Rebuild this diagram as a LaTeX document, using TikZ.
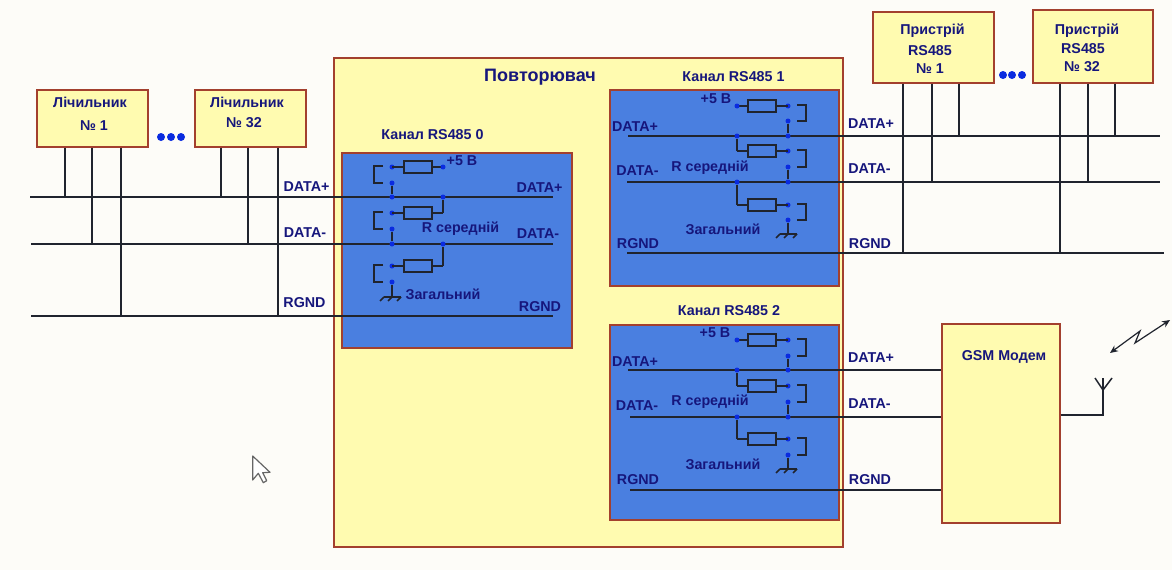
\documentclass[tikz,border=0pt]{standalone}
\usepackage{fontspec}
\setmainfont{Liberation Sans}
\usetikzlibrary{arrows.meta}
\definecolor{bgc}{HTML}{FDFCF8}
\definecolor{yel}{HTML}{FFFBB0}
\definecolor{chblue}{HTML}{4A7FE0}
\definecolor{brd}{HTML}{A3402E}
\definecolor{ink}{HTML}{16167C}
\definecolor{dotc}{HTML}{0A2BE0}
\definecolor{wire}{HTML}{20242E}
\tikzset{
  x=1pt,y=-1pt,
  wireline/.style={draw=wire,line width=1.5pt},
  ybox/.style={draw=brd,line width=1.7pt,fill=yel,anchor=north west,inner sep=0pt},
  chbox/.style={draw=brd,line width=1.7pt,fill=chblue,anchor=north west,inner sep=0pt},
  lbl/.style={text=ink,font=\bfseries\fontsize{14.3}{16}\selectfont,inner sep=0pt},
  res/.style={draw=wire,line width=1.5pt,minimum width=28pt,minimum height=12pt,inner sep=0pt},
  jd/.style={circle,fill=dotc,minimum size=5pt,inner sep=0pt},
}
% name, dot x, direction, y of first contact, y of second contact
\newcommand{\rung}[5]{%
  \node[jd] (#1a) at (#2,#4) {};
  \node[jd] (#1b) at (#2,#5) {};
  \node[res] (#1r) at (#2-#3*26,#4) {};
  \coordinate (#1f) at (#2-#3*51,#4);
  \draw[wireline] (#1a.center) -- (#1r);
  \draw[wireline] (#1r) -- (#1f);
  \draw[wireline] (#2+#3*9,#4-1) -- (#2+#3*18,#4-1) -- (#2+#3*18,#5) -- (#2+#3*9,#5);
}
\newcommand{\earth}[3]{% name, x, y
  \coordinate (#1) at (#2,#3);
  \draw[wireline] (#2-8,#3) -- (#2+9,#3);
  \draw[wireline] (#2-8,#3) -- (#2-12,#3+4);
  \draw[wireline] (#2+0,#3) -- (#2-4,#3+4);
  \draw[wireline] (#2+9,#3) -- (#2+5,#3+4);
}
\newcommand{\tapdot}[3]{\node[jd] (#1) at (#2,#3) {};}
\begin{document}
\begin{tikzpicture}
\useasboundingbox (0,0) rectangle (1172,570);
\fill[bgc] (0,0) rectangle (1172,570);

% Boxes
\node[ybox,minimum width=509pt,minimum height=489pt] (rep) at (333,57) {};
\node[ybox,minimum width=111pt,minimum height=57pt] (m1) at (36,89) {};
\node[ybox,minimum width=111pt,minimum height=57pt] (m2) at (194,89) {};
\node[ybox,minimum width=121pt,minimum height=71pt] (d1) at (872,11) {};
\node[ybox,minimum width=120pt,minimum height=73pt] (d2) at (1032,9) {};
\node[ybox,minimum width=118pt,minimum height=199pt] (gsm) at (941,323) {};
\node[chbox,minimum width=230pt,minimum height=195pt] (ch0) at (341,152) {};
\node[chbox,minimum width=229pt,minimum height=196pt] (ch1) at (609,89) {};
\node[chbox,minimum width=229pt,minimum height=195pt] (ch2) at (609,324) {};

% Wire ends
\coordinate (a0) at (30,197);   \coordinate (a1) at (553,197);
\coordinate (b0) at (31,244);   \coordinate (b1) at (553,244);
\coordinate (c0) at (31,316);   \coordinate (c1) at (553,316);
\coordinate (e0) at (628,136);  \coordinate (e1) at (1160,136);
\coordinate (f0) at (627,182);  \coordinate (f1) at (1160,182);
\coordinate (g0) at (627,253);  \coordinate (g1) at (1164,253);
\coordinate (h0) at (628,370);  \coordinate (h1) at (gsm.west |- h0);
\coordinate (i0) at (630,417);  \coordinate (i1) at (gsm.west |- i0);
\coordinate (j0) at (630,490);  \coordinate (j1) at (gsm.west |- j0);
\foreach \p/\q in {a0/a1,b0/b1,c0/c1,e0/e1,f0/f1,g0/g1,h0/h1,i0/i1,j0/j1}
  \draw[wireline] (\p) -- (\q);

% Stubs from the top devices
\foreach \bx/\sx/\ty in {m1/65/a0,m1/92/b0,m1/121/c0,m2/221/a0,m2/248/b0,m2/278/c0,
                         d1/903/g0,d1/932/f0,d1/959/e0,d2/1060/g0,d2/1088/f0,d2/1115/e0}
  \draw[wireline] (\sx,0 |- \bx.south) -- (\sx,0 |- \ty);

% Channel 0
\rung{p0}{392}{-1}{167}{183}
\rung{p1}{392}{-1}{213}{229}
\rung{p2}{392}{-1}{266}{282}
\tapdot{p0t}{392}{197}\tapdot{p1t}{392}{244}
\tapdot{p1j}{443}{197}\tapdot{p2j}{443}{244}
\node[jd] (p0v) at (p0f) {};
\draw[wireline] (p0b) -- (p0t);
\draw[wireline] (p1b) -- (p1t);
\draw[wireline] (p1f) -- (p1j);
\draw[wireline] (p2f) -- (p2j);
\earth{p2e}{392}{297}
\draw[wireline] (p2b) -- (p2e);

% Channel 1
\rung{q0}{788}{1}{106}{121}
\rung{q1}{788}{1}{151}{167}
\rung{q2}{788}{1}{205}{220}
\tapdot{q0t}{788}{136}\tapdot{q1t}{788}{182}
\tapdot{q1j}{737}{136}\tapdot{q2j}{737}{182}
\node[jd] (q0v) at (q0f) {};
\draw[wireline] (q0b) -- (q0t);
\draw[wireline] (q1b) -- (q1t);
\draw[wireline] (q1f) -- (q1j);
\draw[wireline] (q2f) -- (q2j);
\earth{q2e}{788}{234}
\draw[wireline] (q2b) -- (q2e);

% Channel 2
\rung{s0}{788}{1}{340}{356}
\rung{s1}{788}{1}{386}{402}
\rung{s2}{788}{1}{439}{455}
\tapdot{s0t}{788}{370}\tapdot{s1t}{788}{417}
\tapdot{s1j}{737}{370}\tapdot{s2j}{737}{417}
\node[jd] (s0v) at (s0f) {};
\draw[wireline] (s0b) -- (s0t);
\draw[wireline] (s1b) -- (s1t);
\draw[wireline] (s1f) -- (s1j);
\draw[wireline] (s2f) -- (s2j);
\earth{s2e}{788}{469}
\draw[wireline] (s2b) -- (s2e);

% Ellipsis dots
\foreach \n/\x/\y in {k1/161/137,k2/171/137,k3/181/137,k4/1003/75,k5/1012/75,k6/1022/75}
  \node[circle,fill=dotc,minimum size=8pt,inner sep=0pt] (\n) at (\x,\y) {};

% Antenna
\coordinate (an0) at (gsm.east |- 0,415);
\coordinate (an1) at (1103,415);
\coordinate (an2) at (1103,390);
\coordinate (an3) at (1103,378);
\draw[wireline] (an0) -- (an1) -- (an2);
\draw[wireline] (1095,378) -- (an2) -- (1112,378);
\draw[wireline] (an2) -- (an3);
% Radio link
\coordinate (rl0) at (1110,353);
\coordinate (rl1) at (1170,320);
\draw[wireline,line width=1.2pt,{Stealth[length=8pt,width=7pt]}-{Stealth[length=8pt,width=7pt]}] (rl0) -- (1140,331) -- (1135,343) -- (rl1);

% Cursor
\draw[draw=black!60,line width=1.2pt,fill=white,line join=round]
  (252.7,456) -- (252.7,480) -- (258.3,473.3) -- (263.3,482.7) -- (266.7,480.7) -- (262.7,472.7) -- (270,472.3) -- cycle;

% Box labels
\node[lbl] (tm1a) at (90,102) {Лічильник};
\node[lbl] (tm1b) at (94,126) {№ 1};
\node[lbl] (tm2a) at (247,102) {Лічильник};
\node[lbl] (tm2b) at (244,123) {№ 32};
\node[lbl] (td1a) at (932.5,31) {Пристрій};
\node[lbl] (td1b) at (930,51) {RS485};
\node[lbl] (td1c) at (930,69) {№ 1};
\node[lbl] (td2a) at (1087,31) {Пристрій};
\node[lbl] (td2b) at (1083,49) {RS485};
\node[lbl] (td2c) at (1082,67) {№ 32};
\node[lbl,font=\bfseries\fontsize{18}{20}\selectfont] (trep) at (540,77) {Повторювач};
\node[lbl] (tch0) at (432.5,135) {Канал RS485 0};
\node[lbl] (tch1) at (733.5,77) {Канал RS485 1};
\node[lbl] (tch2) at (729,311) {Канал RS485 2};
\node[lbl] (tgsm) at (1004,357) {GSM Модем};

% Channel 0 labels
\node[lbl] (l01) at (306.5,187) {DATA+};
\node[lbl] (l02) at (305,233) {DATA-};
\node[lbl] (l03) at (304.5,303) {RGND};
\node[lbl] (l04) at (539.5,188) {DATA+};
\node[lbl] (l05) at (538,234) {DATA-};
\node[lbl] (l06) at (540,307) {RGND};
\node[lbl] (l07) at (462,160.5) {+5 В};
\node[lbl] (l08) at (460.5,229) {R середній};
\node[lbl] (l09) at (443,294) {Загальний};

% Channel 1 labels
\node[lbl] (l11) at (635,127) {DATA+};
\node[lbl] (l12) at (637.5,171) {DATA-};
\node[lbl] (l13) at (638,244) {RGND};
\node[lbl] (l14) at (871,124) {DATA+};
\node[lbl] (l15) at (869.5,169) {DATA-};
\node[lbl] (l16) at (870,244) {RGND};
\node[lbl] (l17) at (716,98.5) {+5 В};
\node[lbl] (l18) at (710,168) {R середній};
\node[lbl] (l19) at (723,229) {Загальний};

% Channel 2 labels
\node[lbl] (l21) at (635,361.5) {DATA+};
\node[lbl] (l22) at (637,406) {DATA-};
\node[lbl] (l23) at (638,480) {RGND};
\node[lbl] (l24) at (871,358) {DATA+};
\node[lbl] (l25) at (869.5,404) {DATA-};
\node[lbl] (l26) at (870,480) {RGND};
\node[lbl] (l27) at (715,333) {+5 В};
\node[lbl] (l28) at (710,402) {R середній};
\node[lbl] (l29) at (723,464) {Загальний};
\end{tikzpicture}
\end{document}
